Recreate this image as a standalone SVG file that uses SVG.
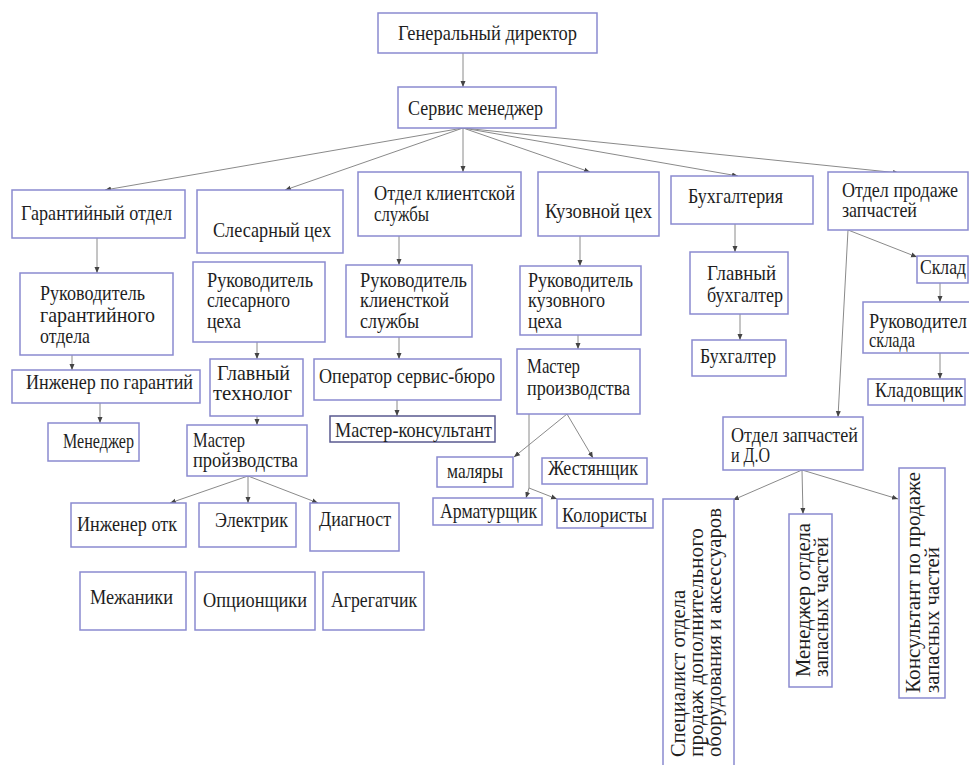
<svg xmlns="http://www.w3.org/2000/svg" width="969" height="765" viewBox="0 0 969 765" font-family="'Liberation Serif', 'DejaVu Serif', serif" font-size="22">
<style>
.b{fill:#fff;stroke:#8a8ad0;stroke-width:1.5}
text{font-family:'Liberation Serif','DejaVu Serif',serif;font-size:22px;fill:#1e1e1e}
.c{stroke:#8a8a8a;stroke-width:1;fill:none;marker-end:url(#a)}
.l{stroke:#8a8a8a;stroke-width:1;fill:none}
</style>
<defs>
<marker id="a" markerWidth="6" markerHeight="6" refX="6" refY="3" orient="auto" markerUnits="userSpaceOnUse">
<path d="M0,0.5 L6,3 L0,5.5 z" fill="#444"/>
</marker>
</defs>
<rect width="969" height="765" fill="#fff"/>
<g id="connectors">
<path class="c" d="M463,53 L463,87"/>
<path class="c" d="M463,128 L105,190"/>
<path class="c" d="M463,128 L285,190"/>
<path class="c" d="M463,128 L463,172"/>
<path class="c" d="M463,128 L590,172"/>
<path class="c" d="M463,128 L738,176"/>
<path class="c" d="M463,128 L899,173"/>
<path class="c" d="M97,238 L97,273"/>
<path class="c" d="M72,355 L72,370"/>
<path class="c" d="M100,403 L100,423"/>
<path class="c" d="M257,342 L257,359"/>
<path class="c" d="M257,416 L257,425"/>
<path class="c" d="M248,476 L170,503"/>
<path class="c" d="M248,476 L248,503"/>
<path class="c" d="M248,476 L318,503"/>
<path class="c" d="M399,236 L399,265"/>
<path class="c" d="M399,337 L399,359"/>
<path class="c" d="M397,400 L397,416"/>
<path class="c" d="M580,236 L580,266"/>
<path class="c" d="M578,335 L578,349"/>
<path class="c" d="M567,414 L514,457"/>
<path class="c" d="M567,414 L593,458"/>
<path class="l" d="M529,414 L529,488"/>
<path class="c" d="M529,488 L526,498"/>
<path class="c" d="M529,488 L557,499"/>
<path class="c" d="M735,224 L735,252"/>
<path class="c" d="M740,314 L740,340"/>
<path class="c" d="M848,230 L917,257"/>
<path class="c" d="M848,230 L838,417"/>
<path class="c" d="M940,283 L940,302"/>
<path class="c" d="M940,353 L940,379"/>
<path class="c" d="M802,470 L733,500"/>
<path class="c" d="M802,470 L803,514"/>
<path class="c" d="M802,470 L898,499"/>
</g>
<g id="gen-dir"><rect class="b" x="378" y="13" width="219" height="40"/><text x="398" y="40" textLength="179" lengthAdjust="spacingAndGlyphs">Генеральный директор</text></g>
<g id="service-mgr"><rect class="b" x="398" y="87" width="158" height="41"/><text x="408" y="115" textLength="135" lengthAdjust="spacingAndGlyphs">Сервис менеджер</text></g>
<g id="garant"><rect class="b" x="12" y="190" width="173" height="48"/><text x="21" y="220" textLength="151" lengthAdjust="spacingAndGlyphs">Гарантийный отдел</text></g>
<g id="slesar"><rect class="b" x="197" y="190" width="146" height="63"/><text x="213" y="237" textLength="118" lengthAdjust="spacingAndGlyphs">Слесарный цех</text></g>
<g id="client"><rect class="b" x="358" y="172" width="163" height="64"/><text x="374" y="200" textLength="141" lengthAdjust="spacingAndGlyphs">Отдел клиентской</text><text x="374" y="221" textLength="55" lengthAdjust="spacingAndGlyphs">службы</text></g>
<g id="kuzov"><rect class="b" x="538" y="172" width="121" height="64"/><text x="545" y="218" textLength="107" lengthAdjust="spacingAndGlyphs">Кузовной цех</text></g>
<g id="buh"><rect class="b" x="671" y="176" width="142" height="48"/><text x="688" y="203" textLength="95" lengthAdjust="spacingAndGlyphs">Бухгалтерия</text></g>
<g id="parts-sales"><rect class="b" x="828" y="172" width="140" height="58"/><text x="842" y="197" textLength="116" lengthAdjust="spacingAndGlyphs">Отдел продаже</text><text x="842" y="217" textLength="75" lengthAdjust="spacingAndGlyphs">запчастей</text></g>
<g id="ruk-garant"><rect class="b" x="20" y="273" width="153" height="82"/><text x="40" y="300" textLength="105" lengthAdjust="spacingAndGlyphs">Руководитель</text><text x="40" y="322" textLength="115" lengthAdjust="spacingAndGlyphs">гарантийного</text><text x="40" y="343" textLength="50" lengthAdjust="spacingAndGlyphs">отдела</text></g>
<g id="ruk-slesar"><rect class="b" x="193" y="262" width="132" height="80"/><text x="207" y="287" textLength="106" lengthAdjust="spacingAndGlyphs">Руководитель</text><text x="207" y="307" textLength="83" lengthAdjust="spacingAndGlyphs">слесарного</text><text x="207" y="328" textLength="34" lengthAdjust="spacingAndGlyphs">цеха</text></g>
<g id="ing-garant"><rect class="b" x="12" y="370" width="188" height="33"/><text x="26" y="389" textLength="167" lengthAdjust="spacingAndGlyphs">Инженер по гарантий</text></g>
<g id="gl-tech"><rect class="b" x="210" y="359" width="93" height="57"/><text x="217" y="380" textLength="73" lengthAdjust="spacingAndGlyphs">Главный</text><text x="213" y="400" textLength="79" lengthAdjust="spacingAndGlyphs">технолог</text></g>
<g id="manager"><rect class="b" x="48" y="423" width="91" height="38"/><text x="63" y="448" textLength="71" lengthAdjust="spacingAndGlyphs">Менеджер</text></g>
<g id="master1"><rect class="b" x="187" y="425" width="120" height="51"/><text x="193" y="447" textLength="52" lengthAdjust="spacingAndGlyphs">Мастер</text><text x="193" y="467" textLength="105" lengthAdjust="spacingAndGlyphs">пройзводства</text></g>
<g id="ing-otk"><rect class="b" x="71" y="503" width="115" height="44"/><text x="77" y="531" textLength="100" lengthAdjust="spacingAndGlyphs">Инженер отк</text></g>
<g id="electric"><rect class="b" x="199" y="503" width="97" height="44"/><text x="215" y="527" textLength="73" lengthAdjust="spacingAndGlyphs">Электрик</text></g>
<g id="diagnost"><rect class="b" x="310" y="503" width="89" height="48"/><text x="319" y="526" textLength="72" lengthAdjust="spacingAndGlyphs">Диагност</text></g>
<g id="mechanics"><rect class="b" x="80" y="572" width="106" height="58"/><text x="90" y="604" textLength="83" lengthAdjust="spacingAndGlyphs">Межаники</text></g>
<g id="options"><rect class="b" x="195" y="572" width="120" height="58"/><text x="203" y="607" textLength="104" lengthAdjust="spacingAndGlyphs">Опционщики</text></g>
<g id="aggregat"><rect class="b" x="323" y="572" width="101" height="58"/><text x="331" y="607" textLength="86" lengthAdjust="spacingAndGlyphs">Агрегатчик</text></g>
<g id="ruk-client"><rect class="b" x="346" y="265" width="126" height="72"/><text x="360" y="287" textLength="107" lengthAdjust="spacingAndGlyphs">Руководитель</text><text x="360" y="307" textLength="89" lengthAdjust="spacingAndGlyphs">клиенсткой</text><text x="360" y="328" textLength="59" lengthAdjust="spacingAndGlyphs">службы</text></g>
<g id="operator"><rect class="b" x="314" y="359" width="187" height="41"/><text x="319" y="383" textLength="176" lengthAdjust="spacingAndGlyphs">Оператор сервис-бюро</text></g>
<g id="master-cons"><rect class="b" x="330" y="416" width="165" height="26" style="stroke:#5a5a90"/><text x="335" y="437" textLength="157" lengthAdjust="spacingAndGlyphs">Мастер-консультант</text></g>
<g id="ruk-kuzov"><rect class="b" x="520" y="266" width="121" height="69"/><text x="528" y="287" textLength="105" lengthAdjust="spacingAndGlyphs">Руководитель</text><text x="528" y="307" textLength="77" lengthAdjust="spacingAndGlyphs">кузовного</text><text x="528" y="328" textLength="34" lengthAdjust="spacingAndGlyphs">цеха</text></g>
<g id="master2"><rect class="b" x="517" y="349" width="123" height="65"/><text x="527" y="373" textLength="53" lengthAdjust="spacingAndGlyphs">Мастер</text><text x="527" y="395" textLength="103" lengthAdjust="spacingAndGlyphs">производства</text></g>
<g id="painters"><rect class="b" x="437" y="457" width="76" height="30"/><text x="447" y="478" textLength="56" lengthAdjust="spacingAndGlyphs">маляры</text></g>
<g id="tinsmith"><rect class="b" x="542" y="458" width="105" height="26"/><text x="548" y="475" textLength="90" lengthAdjust="spacingAndGlyphs">Жестянщик</text></g>
<g id="armatur"><rect class="b" x="433" y="498" width="109" height="27"/><text x="440" y="518" textLength="97" lengthAdjust="spacingAndGlyphs">Арматурщик</text></g>
<g id="colorists"><rect class="b" x="557" y="499" width="96" height="29"/><text x="562" y="522" textLength="85" lengthAdjust="spacingAndGlyphs">Колористы</text></g>
<g id="gl-buh"><rect class="b" x="690" y="252" width="98" height="62"/><text x="707" y="280" textLength="69" lengthAdjust="spacingAndGlyphs">Главный</text><text x="707" y="302" textLength="76" lengthAdjust="spacingAndGlyphs">бухгалтер</text></g>
<g id="buhgalter"><rect class="b" x="692" y="340" width="94" height="36"/><text x="700" y="363" textLength="76" lengthAdjust="spacingAndGlyphs">Бухгалтер</text></g>
<g id="sklad"><rect class="b" x="917" y="256" width="51" height="27"/><text x="920" y="274" textLength="46" lengthAdjust="spacingAndGlyphs">Склад</text></g>
<g id="ruk-sklad"><rect class="b" x="863" y="302" width="110" height="51"/><text x="869" y="328" textLength="98" lengthAdjust="spacingAndGlyphs">Руководител</text><text x="869" y="347" textLength="46" lengthAdjust="spacingAndGlyphs">склада</text></g>
<g id="kladov"><rect class="b" x="868" y="379" width="97" height="26"/><text x="875" y="397" textLength="88" lengthAdjust="spacingAndGlyphs">Кладовщик</text></g>
<g id="parts-do"><rect class="b" x="723" y="417" width="140" height="53"/><text x="731" y="442" textLength="127" lengthAdjust="spacingAndGlyphs">Отдел запчастей</text><text x="731" y="462" textLength="39" lengthAdjust="spacingAndGlyphs">и Д.О</text></g>
<g id="specialist"><rect class="b" x="663" y="499" width="71" height="280"/><text transform="translate(685,757) rotate(-90)" textLength="167" lengthAdjust="spacingAndGlyphs">Специалист отдела</text><text transform="translate(703,757) rotate(-90)" textLength="229" lengthAdjust="spacingAndGlyphs">продаж дополнительного</text><text transform="translate(721,757) rotate(-90)" textLength="249" lengthAdjust="spacingAndGlyphs">оборудования и аксессуаров</text></g>
<g id="parts-mgr"><rect class="b" x="789" y="514" width="43" height="173"/><text transform="translate(810,677) rotate(-90)" textLength="154" lengthAdjust="spacingAndGlyphs">Менеджер отдела</text><text transform="translate(828,677) rotate(-90)" textLength="140" lengthAdjust="spacingAndGlyphs">запасных частей</text></g>
<g id="parts-cons"><rect class="b" x="899" y="468" width="46" height="230"/><text transform="translate(920,693) rotate(-90)" textLength="221" lengthAdjust="spacingAndGlyphs">Консультант по продаже</text><text transform="translate(939,693) rotate(-90)" textLength="146" lengthAdjust="spacingAndGlyphs">запасных частей</text></g>
</svg>
